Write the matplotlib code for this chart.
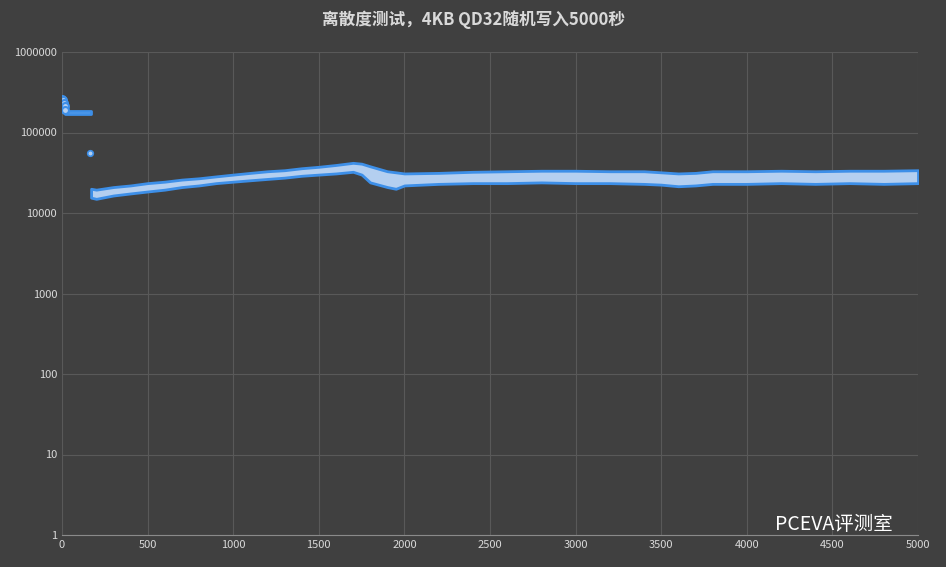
import matplotlib
matplotlib.use("Agg")
import matplotlib.pyplot as plt

plt.rcParams['font.family'] = ['Noto Sans CJK SC', 'DejaVu Sans']

title = "离散度测试，4KB QD32随机写入5000秒"
# early burst phase
burst_t = [0, 5, 10, 15, 20]
burst_iops = [260000, 250000, 235000, 215000, 190000]
plateau_t = [20, 40, 60, 80, 100, 120, 140, 160, 170]
plateau_lo = [168000, 168000, 168000, 168000, 168000, 168000, 168000, 168000, 168000]
plateau_hi = [185000, 185000, 185000, 185000, 185000, 185000, 185000, 185000, 185000]
outlier_t = [165]
outlier_iops = [55000]
# steady-state band (low / high envelope of the scatter)
band_t = [170, 200, 300, 400, 500, 600, 700, 800, 900, 1000, 1100, 1200, 1300, 1400,
          1500, 1600, 1700, 1750, 1800, 1900, 1950, 2000, 2200, 2400, 2600, 2800, 3000,
          3200, 3400, 3500, 3600, 3700, 3800, 4000, 4200, 4400, 4600, 4800, 5000]
band_lo = [15500, 15000, 16500, 17500, 18500, 19500, 21000, 22000, 23500, 24500, 25500,
           26500, 27500, 29000, 30000, 31000, 32500, 30000, 24000, 21000, 20000, 22000,
           23000, 23500, 23500, 24000, 23500, 23500, 23000, 22500, 21500, 22000, 23000,
           23000, 23500, 23000, 23500, 23000, 23500]
band_hi = [20000, 19500, 21000, 22000, 23500, 24500, 26000, 27000, 28500, 30000, 31500,
           33000, 34000, 36000, 37500, 39500, 42000, 41000, 38000, 33000, 32000, 31000,
           31500, 32500, 33000, 33500, 33500, 33000, 33000, 32000, 31000, 31500, 33000,
           33000, 33500, 33000, 33500, 33500, 34000]
xticks = list(range(0, 5001, 500))
yticks = [1, 10, 100, 1000, 10000, 100000, 1000000]

bg = '#404040'
fig = plt.figure(figsize=(9.46, 5.67), dpi=100, facecolor=bg)
ax = fig.add_axes([62/946, 32/567, 856/946, 483/567], facecolor=bg)

fill_c = '#b4cff0'
edge_c = '#3d8fe8'

ax.fill_between(band_t, band_lo, band_hi, color=fill_c, zorder=3,
                edgecolor=edge_c, linewidth=2)
ax.fill_between(plateau_t, plateau_lo, plateau_hi, color=fill_c, zorder=3,
                edgecolor=edge_c, linewidth=2)
ax.plot(burst_t, burst_iops, 'o', color=fill_c, ms=5, mec=edge_c, mew=1.5, zorder=4)
ax.plot(outlier_t, outlier_iops, 'o', color=fill_c, ms=4, mec=edge_c, mew=1.2, zorder=4)

ax.set_yscale('log')
ax.set_xlim(0, 5000)
ax.set_ylim(1, 1000000)
ax.set_xticks(xticks)
ax.set_xticklabels([str(v) for v in xticks])
ax.set_yticks(yticks)
ax.set_yticklabels([str(v) for v in yticks])
ax.minorticks_off()
ax.tick_params(colors='#d9d9d9', labelsize=8, length=0)
ax.grid(True, color='#595959', linewidth=0.8)
ax.set_axisbelow(True)
for s in ax.spines.values():
    s.set_visible(False)
ax.spines['bottom'].set_visible(True)
ax.spines['bottom'].set_color('#8a8a8a')

fig.text(0.5, 1 - 20/567, title, ha='center', va='center', color='#d9d9d9',
         fontsize=12, fontweight='bold')
fig.text(775/946, 1 - 524/567, "PCEVA评测室", ha='left', va='center', color='white',
         fontsize=14)

fig.savefig('out.png', dpi=100, facecolor=bg)
